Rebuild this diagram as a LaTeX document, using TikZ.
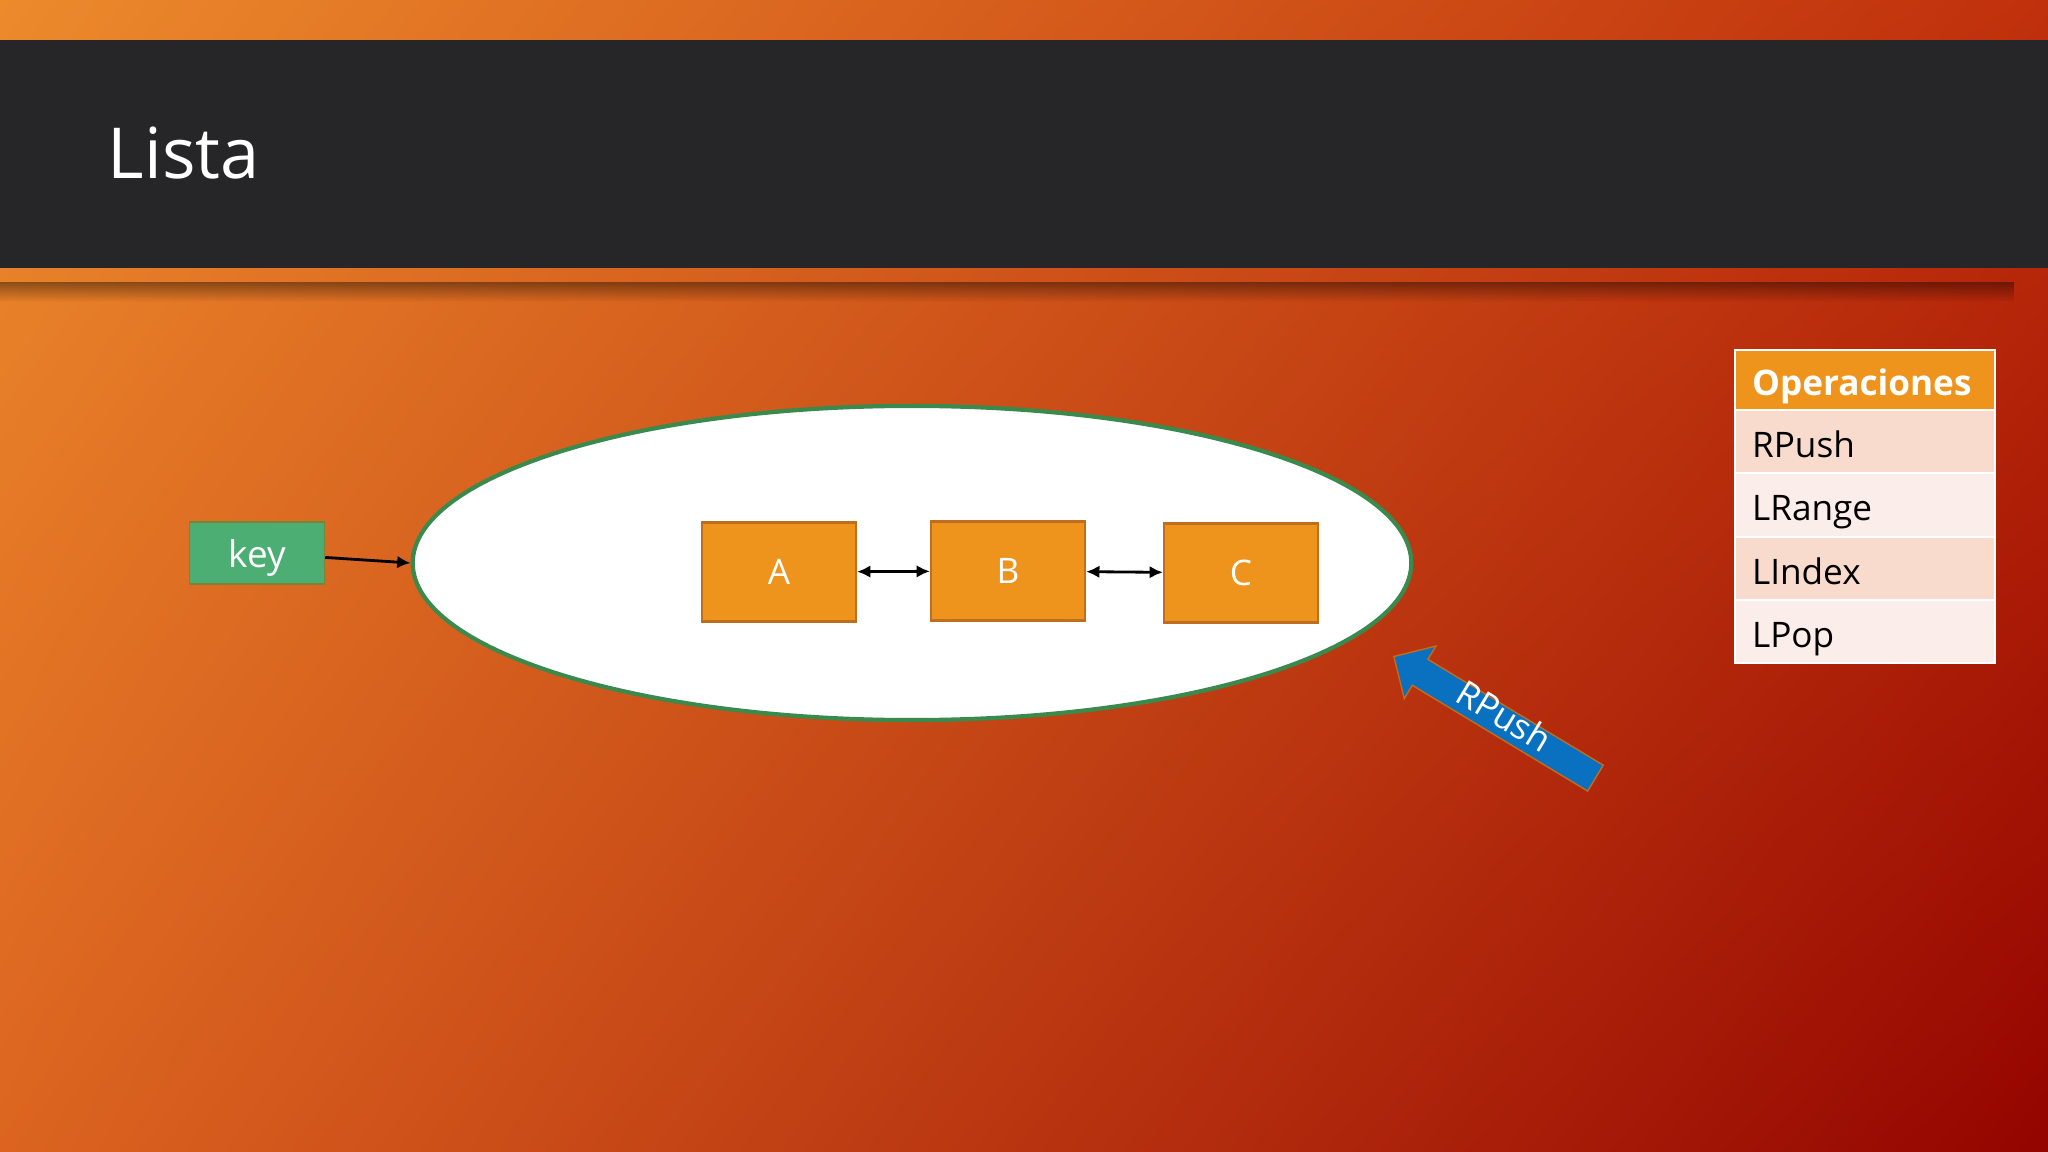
\documentclass[tikz,border=0pt]{standalone}
\usepackage{fontspec}
\setmainfont{Open Sans}
\usetikzlibrary{arrows.meta,shapes.geometric,shapes.arrows,fadings,shadings}

\definecolor{fondoA}{HTML}{EC8A2C}
\definecolor{fondoB}{HTML}{C0300C}
\definecolor{fondoC}{HTML}{DC6420}
\definecolor{fondoD}{HTML}{940400}
\definecolor{banda}{HTML}{262628}
\definecolor{naranja}{HTML}{EE941C}
\definecolor{cajaborde}{HTML}{BE6E1E}
\definecolor{verde}{HTML}{4DAE74}
\definecolor{verdeborde}{HTML}{3A8A4E}
\definecolor{azul}{HTML}{0A70C0}
\definecolor{filaA}{HTML}{F9DBCE}
\definecolor{filaB}{HTML}{FBEEEA}

\begin{document}
\begin{tikzpicture}[x=0.01cm, y=-0.01cm, doble/.style={{Latex[length=3.8pt,width=3.6pt]}-{Latex[length=3.8pt,width=3.6pt]}, line width=0.8pt}]
        \tikzset{caja/.style={rectangle, minimum height=0.99cm, minimum width=1.54cm, draw=cajaborde, line width=0.6pt, fill=naranja, text=white, font=\fontsize{10}{12}\selectfont}};
        \tikzset{oper/.style={rectangle, anchor=north west, minimum width=2.6cm, text width=2.26cm, align=left, inner xsep=0.17cm, inner ysep=0pt, outer sep=0pt, text height=9pt, text depth=0pt, draw=white, line width=0.6pt, font=\fontsize{10}{12}\selectfont}};
        \useasboundingbox (0, 0) rectangle (2048, 1152);
        \shade[upper left=fondoA, upper right=fondoB, lower left=fondoC, lower right=fondoD] (0, 0) rectangle (2048, 1152);
        \fill[banda] (0, 40) rectangle (2048, 268);
        \fill[black, opacity=0.4, path fading=south] (0, 282) rectangle (2015, 302);

        \node[anchor=base west, text=white, inner sep=0pt, font=\fontsize{20}{24}\selectfont] (titulo) at (107, 179) {Lista};

        \node[ellipse, minimum width=9.98cm, minimum height=3.14cm, inner sep=0pt, draw=verdeborde, line width=1.2pt, fill=white] (lista) at (912, 563) {};
        \node[rectangle, minimum width=1.35cm, minimum height=0.62cm, text height=8pt, text depth=0pt, fill=verde, draw=verdeborde!70!orange, line width=0.4pt, text=white, font=\fontsize{10.5}{12}\selectfont] (key) at (257, 553) {key}
            edge[-{Latex[length=3.8pt,width=3.6pt]}, line width=0.8pt] (lista.west);

        \node[caja] (A) at (779, 572) {A};
        \node[caja] (B) at (1008, 571) {B}
            edge[doble] (A);
        \node[caja] (C) at (1241, 573) {C}
            edge[doble] (B);

        \node[single arrow, shape border rotate=180, rotate=-31.1, anchor=tip, single arrow head extend=0.155cm, inner xsep=0.58cm, inner ysep=0.6pt, text height=5.5pt, text depth=1.5pt, fill=azul, draw=cajaborde, line width=0.4pt, text=white, font=\fontsize{10}{12}\selectfont] (rpush) at (1393, 656) {RPush};

        \node[oper, minimum height=0.6cm, fill=naranja, text=white, font=\fontsize{10}{12}\selectfont\bfseries] (ops) at (1735, 350) {Operaciones};
        \node[oper, minimum height=0.633cm, fill=filaA] (op1) at (ops.south west) {RPush};
        \node[oper, minimum height=0.633cm, fill=filaB] (op2) at (op1.south west) {LRange};
        \node[oper, minimum height=0.633cm, fill=filaA] (op3) at (op2.south west) {LIndex};
        \node[oper, minimum height=0.633cm, fill=filaB] (op4) at (op3.south west) {LPop};
    \end{tikzpicture}
\end{document}
